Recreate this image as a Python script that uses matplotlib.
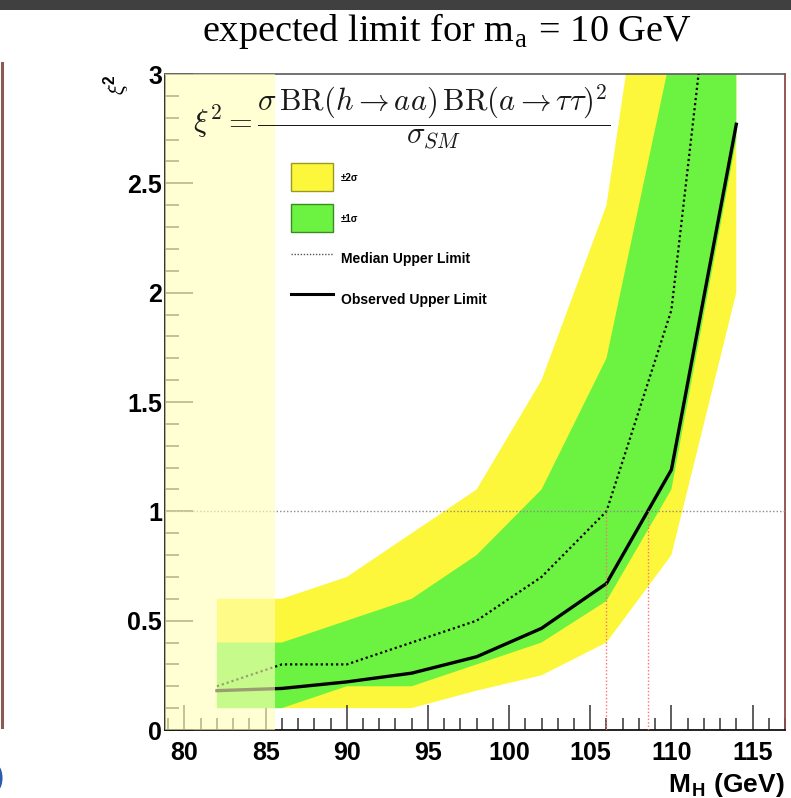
import numpy as np
import matplotlib
matplotlib.use("Agg")
import matplotlib.pyplot as plt
from matplotlib.patches import Rectangle, Patch, Arc
from matplotlib.lines import Line2D
from matplotlib.ticker import MultipleLocator, FuncFormatter

plt.rcParams['font.family'] = ['Liberation Sans', 'DejaVu Sans']
plt.rcParams['mathtext.fontset'] = 'cm'

# Higgs mass scan points (GeV) and limits on xi^2
mass = np.array([82, 86, 90, 94, 98, 102, 106, 110, 114])
observed = np.array([0.18, 0.19, 0.22, 0.26, 0.335, 0.465, 0.67, 1.19, 2.77])
median = np.array([0.2, 0.3, 0.3, 0.4, 0.5, 0.7, 1.0, 1.92, 4.5])
minus_1s = np.array([0.1, 0.1, 0.2, 0.2, 0.3, 0.4, 0.59, 1.1, 2.7])
plus_1s = np.array([0.4, 0.4, 0.5, 0.6, 0.8, 1.1, 1.7, 3.1, 5.5])
minus_2s = np.array([0.1, 0.1, 0.1, 0.1, 0.18, 0.25, 0.4, 0.8, 2.0])
plus_2s = np.array([0.6, 0.6, 0.7, 0.9, 1.1, 1.6, 2.4, 4.4, 7.0])

excluded_lo, excluded_hi = 78.8, 85.55   # LEP-excluded shaded window
xmin, xmax = 78.8, 117.0

yellow = '#fdf73b'
green = '#6cf240'

fig = plt.figure(figsize=(7.91, 7.98), dpi=100)
fig.patch.set_facecolor('white')
ax = fig.add_axes([165 / 791, 68 / 798, 620 / 791, 656 / 798])

ax.fill_between(mass, minus_2s, plus_2s, color=yellow, lw=0, zorder=1)
ax.fill_between(mass, minus_1s, plus_1s, color=green, lw=0, zorder=2)
ax.plot(mass, median, color='black', ls=(0, (1, 1.3)), lw=1.6, zorder=4)
ax.plot(mass, observed, color='black', lw=2.4, zorder=5)

# reference line at xi^2 = 1 and where the limits cross it
ax.axhline(1.0, color='#8a8a8a', ls=(0, (1, 1.5)), lw=1.0, zorder=6)
x_med = np.interp(1.0, median, mass)
x_obs = np.interp(1.0, observed, mass)
for xc in (x_med, x_obs):
    ax.plot([xc, xc], [0, 1], color='#ff7070', ls=(0, (1, 1.5)), lw=1.0, zorder=6)

# white backing of the formula
ax.add_patch(Rectangle((excluded_hi, 2.766), 106.8 - excluded_hi, 0.229,
                       facecolor='white', edgecolor='none', zorder=7))

ax.axvspan(excluded_lo, excluded_hi, color=(1.0, 1.0, 0.72), alpha=0.62, lw=0, zorder=10)

ax.text(80.5, 2.80,
        r'$\xi^2 = \dfrac{\sigma\,\mathrm{BR}(h\rightarrow aa)\,\mathrm{BR}(a\rightarrow\tau\tau)^2}{\sigma_{SM}}$',
        fontsize=22, ha='left', va='center', color='#1a1a1a', zorder=12)

ax.set_xlim(xmin, xmax)
ax.set_ylim(0, 3)
ax.xaxis.set_major_locator(MultipleLocator(5))
ax.xaxis.set_minor_locator(MultipleLocator(1))
ax.yaxis.set_major_locator(MultipleLocator(0.5))
ax.yaxis.set_minor_locator(MultipleLocator(0.1))
ax.yaxis.set_major_formatter(FuncFormatter(lambda v, p: '%g' % v))

ax.tick_params(axis='x', which='major', direction='in', length=18, width=1.1,
               pad=8, labelsize=18, color='#333333')
ax.tick_params(axis='x', which='minor', direction='in', length=9, width=1.1, color='#333333')
ax.tick_params(axis='y', which='major', direction='in', length=20, width=1.1,
               pad=2, labelsize=18, color='#333333')
ax.tick_params(axis='y', which='minor', direction='in', length=10, width=1.1, color='#333333')
for lab in ax.get_xticklabels() + ax.get_yticklabels():
    lab.set_fontweight('bold')

ax.spines['left'].set_color('#222222')
ax.spines['bottom'].set_color('#111111')
ax.spines['top'].set_color('#666666')
ax.spines['right'].set_color('#8b4a4a')
for s in ax.spines.values():
    s.set_linewidth(1.3)

handles = [
    Patch(facecolor=yellow, edgecolor='#9a9a22', lw=1.0),
    Patch(facecolor=green, edgecolor='#3c8a24', lw=1.0),
    Line2D([], [], color='#555555', ls=(0, (1, 1.2)), lw=1.0),
    Line2D([], [], color='black', lw=2.2),
]
labels = [u'\u00b12\u03c3', u'\u00b11\u03c3', 'Median Upper Limit', 'Observed Upper Limit']
leg = ax.legend(handles, labels, loc='upper left', bbox_to_anchor=(0.2027, 0.8639),
                frameon=False, borderpad=0, borderaxespad=0,
                handlelength=3.02, handleheight=2.73, handletextpad=0.58, labelspacing=0.91,
                prop={'weight': 'bold', 'size': 10})
for t in leg.get_texts()[:2]:
    t.set_fontsize(7)
leg.set_zorder(12)

fig.text(785 / 791, 6 / 798, r'M$_\mathregular{H}$ (GeV)', ha='right', va='baseline',
         fontsize=19, fontweight='bold')
fig.text(118 / 791, 1 - 74 / 798, r'$\xi$$^\mathregular{2}$', rotation=90, ha='center', va='top',
         fontsize=16, fontweight='bold')
fig.text(447 / 791, 1 - 31 / 798, r'expected limit for m$_\mathregular{a}$ = 10 GeV',
         ha='center', va='center', fontsize=27.5, family='Liberation Serif')

# slide strip and neighbouring panel edge
fig.add_artist(Rectangle((0, 1 - 10 / 798), 1, 10 / 798, transform=fig.transFigure,
                         facecolor='#404040', edgecolor='none'))
fig.add_artist(Line2D([1.5 / 791, 1.5 / 791], [1 - 63 / 798, 1 - 727 / 798],
                      color='#8b5a55', lw=2.2, transform=fig.transFigure))
fig.add_artist(Arc((-7 / 791, 20 / 798), 16 / 791, 28 / 798, theta1=-70, theta2=70,
                   transform=fig.transFigure, color='#2a5db0', lw=2.2))

fig.savefig('out.png', dpi=100)
